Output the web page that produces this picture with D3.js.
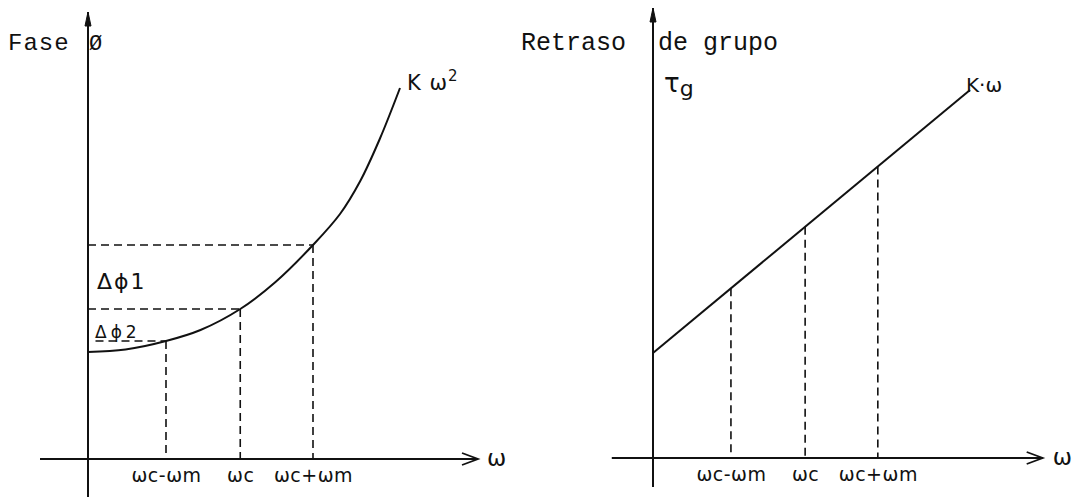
<!DOCTYPE html>
<html>
<head>
<meta charset="utf-8">
<script src="https://cdn.jsdelivr.net/npm/d3@7"></script>
<style>
  html, body { margin: 0; padding: 0; background: #fff; }
  svg { display: block; }
  .mono { font-family: "Liberation Mono", "DejaVu Sans Mono", monospace; fill: #111; }
  .hand { font-family: "DejaVu Sans", sans-serif; fill: #111; }
</style>
</head>
<body>
<svg id="chart" width="1086" height="497"></svg>
<script>
// ---------------- DATA ----------------
// ω positions of the marked frequencies (ωc-ωm, ωc, ωc+ωm), in drawing units
const omegaTicks = [1.04, 2.03, 3.0];
const omegaTickLabels = ["ωc-ωm", "ωc", "ωc+ωm"];

// Left chart: phase Ø = K ω²
const phaseOmega = [0, 0.5, 1.04, 1.5, 2.03, 2.5, 3.0, 3.36, 3.63, 3.89, 4.16];
const phaseValue = [1.07, 1.095, 1.18, 1.29, 1.50, 1.77, 2.14, 2.45, 2.78, 3.20, 3.71];

// Right chart: group delay τg = K·ω
const delayOmega = [0, 4.23];
const delayValue = [1.05, 3.68];

// Phase levels marked with dashed horizontals (at ωc-ωm, ωc, ωc+ωm)
const phaseLevels = [1.18, 1.50, 2.14];
const phaseLevelStart = [0.10, 0, 0];
const deltaLabels = ["Δϕ1", "Δϕ2"];

// Texts
const leftTitle = ["Fase", "Ø"];
const rightTitle = ["Retraso", "de grupo"];
const rightSymbol = ["τ", "g"];
const leftCurveLabel = ["K ω", "2"];
const rightCurveLabel = "K·ω";
const axisLabel = "ω";

// ---------------- DRAWING ----------------
const svg = d3.select("#chart");
const ink = "#111";

function dashedLine(g, x1, y1, x2, y2) {
  g.append("line")
    .attr("x1", x1).attr("y1", y1).attr("x2", x2).attr("y2", y2)
    .attr("stroke", ink).attr("stroke-width", 1.6)
    .attr("stroke-dasharray", "8,5");
}

function axes(g, x, y, xMin, xMax, yMin, yMax, labelDx) {
  g.append("line")
    .attr("x1", x(xMin)).attr("y1", y(0)).attr("x2", x(xMax)).attr("y2", y(0))
    .attr("stroke", ink).attr("stroke-width", 2);
  const tx = x(xMax), ty = y(0);
  g.append("path")
    .attr("d", `M${tx - 16},${ty - 6} L${tx},${ty} L${tx - 16},${ty + 6}`)
    .attr("fill", "none").attr("stroke", ink).attr("stroke-width", 1.8);
  g.append("line")
    .attr("x1", x(0)).attr("y1", y(yMin)).attr("x2", x(0)).attr("y2", y(yMax))
    .attr("stroke", ink).attr("stroke-width", 2);
  const ax = x(0), ay = y(yMax);
  g.append("path")
    .attr("d", `M${ax - 3},${ay + 14} L${ax},${ay} L${ax + 3},${ay + 14} Z`)
    .attr("fill", ink).attr("stroke", ink).attr("stroke-width", 1);
  g.append("text").attr("class", "hand")
    .attr("x", tx + labelDx).attr("y", ty + 7)
    .attr("font-size", 23)
    .text(axisLabel);
  const ax2 = g.append("g")
    .attr("transform", `translate(0,${y(0)})`)
    .call(d3.axisBottom(x).tickValues(omegaTicks)
      .tickFormat((d, i) => omegaTickLabels[i])
      .tickSize(0).tickPadding(10));
  ax2.select(".domain").remove();
  ax2.selectAll("text")
    .attr("fill", ink)
    .style("font-family", "DejaVu Sans, sans-serif")
    .style("font-size", "19px")
    .style("letter-spacing", "0.5px");
}

// ---------- Left chart ----------
{
  const x = d3.scaleLinear().domain([0, 4.16]).range([88, 400]);
  const y = d3.scaleLinear().domain([0, 3.71]).range([459, 88]);
  const g = svg.append("g");

  omegaTicks.forEach((w, i) => dashedLine(g, x(w), y(phaseLevels[i]), x(w), y(0)));
  phaseLevels.forEach((p, i) => dashedLine(g, x(phaseLevelStart[i]), y(p), x(omegaTicks[i]), y(p)));

  axes(g, x, y, -0.64, 5.2, -0.38, 4.47, 9);

  const line = d3.line().x((d, i) => x(phaseOmega[i])).y(d => y(d)).curve(d3.curveCatmullRom.alpha(0.5));
  g.append("path").datum(phaseValue)
    .attr("d", line).attr("fill", "none")
    .attr("stroke", ink).attr("stroke-width", 2);

  g.append("text").attr("class", "mono").attr("x", 8).attr("y", 50)
    .attr("font-size", 24).attr("letter-spacing", 1).text(leftTitle[0]);
  g.append("text").attr("class", "mono").attr("x", 89).attr("y", 50)
    .attr("font-size", 22).text(leftTitle[1]);

  const kt = g.append("text").attr("class", "hand").attr("x", 407).attr("y", 90)
    .attr("font-size", 21).attr("letter-spacing", 1);
  kt.append("tspan").text(leftCurveLabel[0]);
  kt.append("tspan").attr("dy", -9).attr("font-size", 15).text(leftCurveLabel[1]);

  g.append("text").attr("class", "hand").attr("x", 97).attr("y", 289)
    .attr("font-size", 22).attr("letter-spacing", 2).text(deltaLabels[0]);
  g.append("text").attr("class", "hand").attr("x", 95).attr("y", 338)
    .attr("font-size", 17).attr("letter-spacing", 4).text(deltaLabels[1]);
}

// ---------- Right chart ----------
{
  const x = d3.scaleLinear().domain([0, 4.23]).range([653, 970]);
  const y = d3.scaleLinear().domain([0, 3.68]).range([458, 90]);
  const g = svg.append("g");

  const lin = d3.scaleLinear().domain(delayOmega).range(delayValue);
  omegaTicks.forEach(w => dashedLine(g, x(w), y(lin(w)), x(w), y(0)));

  axes(g, x, y, -0.55, 5.2, -0.29, 4.5, 10);

  const line = d3.line().x((d, i) => x(delayOmega[i])).y(d => y(d));
  g.append("path").datum(delayValue)
    .attr("d", line).attr("fill", "none")
    .attr("stroke", ink).attr("stroke-width", 2);

  g.append("text").attr("class", "mono").attr("x", 521).attr("y", 50)
    .attr("font-size", 25).text(rightTitle[0]);
  g.append("text").attr("class", "mono").attr("x", 658).attr("y", 50)
    .attr("font-size", 25).text(rightTitle[1]);

  const tg = g.append("text").attr("class", "hand").attr("x", 664).attr("y", 92)
    .attr("font-size", 26);
  tg.append("tspan").text(rightSymbol[0]);
  tg.append("tspan").attr("dy", 4).attr("font-size", 22).text(rightSymbol[1]);

  g.append("text").attr("class", "hand").attr("x", 966).attr("y", 92)
    .attr("font-size", 20).text(rightCurveLabel);
}
</script>
</body>
</html>
